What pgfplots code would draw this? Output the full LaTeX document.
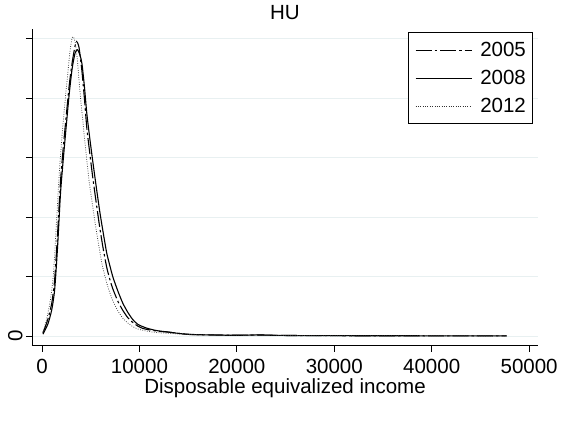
\documentclass[border=0pt]{standalone}
\usepackage{fontspec}
\setmainfont{Liberation Sans}
\usepackage{pgfplots}
\pgfplotsset{compat=1.18}

\definecolor{gridcol}{RGB}{232,240,241}

% kernel density estimates of disposable equivalized income, by wave
\pgfplotstableread{
x y
100 0.05
600 0.28
1000 0.55
1300 0.95
1600 1.72
1900 2.6
2200 3.2
2500 3.72
2800 4.22
3100 4.6
3400 4.88
3560 4.95
3800 4.85
4100 4.45
4350 4.0
4600 3.5
4900 3.08
5200 2.68
5600 2.2
5950 1.8
6300 1.45
6650 1.15
7000 0.93
7300 0.78
7800 0.58
8300 0.43
8800 0.31
9300 0.23
9800 0.17
10300 0.13
10800 0.11
11500 0.09
12200 0.075
13000 0.065
13700 0.05
14500 0.035
15500 0.025
17000 0.02
19000 0.015
21000 0.014
22500 0.017
24000 0.011
27000 0.007
31000 0.005
36000 0.004
41000 0.003
45000 0.002
47700 0.002
}\dataA

\pgfplotstableread{
x y
100 0.03
600 0.2
1000 0.44
1300 0.78
1600 1.5
1900 2.4
2200 3.0
2500 3.55
2800 4.08
3100 4.5
3400 4.76
3650 4.81
3900 4.72
4100 4.58
4350 4.2
4600 3.74
4900 3.33
5200 2.95
5600 2.47
5950 2.07
6300 1.72
6650 1.39
7000 1.16
7300 0.98
7800 0.75
8300 0.55
8800 0.4
9300 0.28
9800 0.2
10300 0.16
10800 0.13
11500 0.1
12000 0.085
12800 0.07
13500 0.055
14200 0.04
15200 0.025
16500 0.02
18000 0.015
20000 0.012
22000 0.018
23000 0.015
25000 0.009
28000 0.006
32000 0.005
36000 0.004
40000 0.003
44000 0.002
47700 0.002
}\dataB

\pgfplotstableread{
x y
100 0.07
500 0.3
900 0.65
1200 1.1
1500 1.95
1800 2.8
2100 3.45
2400 4.0
2700 4.5
2950 4.88
3150 5.03
3400 4.95
3650 4.6
3900 4.1
4200 3.6
4500 3.1
4800 2.65
5100 2.3
5450 1.9
5800 1.55
6150 1.22
6500 0.98
6850 0.78
7300 0.58
7800 0.42
8300 0.3
8800 0.22
9300 0.16
9800 0.12
10500 0.09
11200 0.07
12000 0.055
13000 0.045
14000 0.035
15000 0.025
16500 0.02
18000 0.015
20000 0.012
23000 0.012
26000 0.008
30000 0.005
35000 0.004
40000 0.003
45000 0.002
47700 0.002
}\dataC

\begin{document}
\begin{tikzpicture}
\begin{axis}[
  at={(0pt,0pt)}, anchor=south west,
  scale only axis, width=506pt, height=316.7pt,
  xmin=-1026, xmax=50913,
  ymin=-0.163, ymax=5.16,
  axis lines*=left,
  axis line style={-, black, line width=0.9pt},
  tick align=outside,
  major tick length=6pt,
  tick style={black, line width=0.8pt},
  scaled x ticks=false,
  xtick={0,10000,20000,30000,40000,50000},
  xticklabels={0,10000,20000,30000,40000,50000},
  ytick={0,1,2,3,4,5},
  yticklabels={0,,,,,},
  yticklabel style={rotate=90, anchor=south},
  xticklabel style={yshift=-3.5pt},
  ymajorgrids,
  grid style={gridcol, line width=1pt},
  font=\fontsize{20.5}{24}\selectfont,
  title={HU},
  title style={at={(0.5,1)}, anchor=south, yshift=0pt},
  xlabel={Disposable equivalized income},
  xlabel style={at={(axis description cs:0.5,0)}, anchor=base, yshift=-48pt},
  legend style={
    at={(0.9907,0.9896)}, anchor=north east,
    draw=black, line width=0.8pt, fill=white,
    font=\fontsize{20.5}{24}\selectfont,
    inner xsep=7pt, inner ysep=9.5pt,
    row sep=12.3pt, column sep=8pt,
    nodes={inner sep=0pt},
    cells={anchor=west},
  },
  legend image code/.code={\draw[#1] (0pt,0pt) -- (56pt,0pt);},
]
\addplot[black, line width=1.1pt, dash pattern=on 16pt off 3pt on 2.5pt off 3pt, smooth, tension=0.4] table {\dataA};
\addlegendentry{2005}
\addplot[black, line width=1.1pt, smooth, tension=0.4] table {\dataB};
\addlegendentry{2008}
\addplot[black!80, line width=0.75pt, dash pattern=on 0.75pt off 1.6pt, smooth, tension=0.4] table {\dataC};
\addlegendentry{2012}
\end{axis}
\pgfresetboundingbox
\useasboundingbox (-32pt,-82.3pt) rectangle (541pt,345.7pt);
\end{tikzpicture}
\end{document}
